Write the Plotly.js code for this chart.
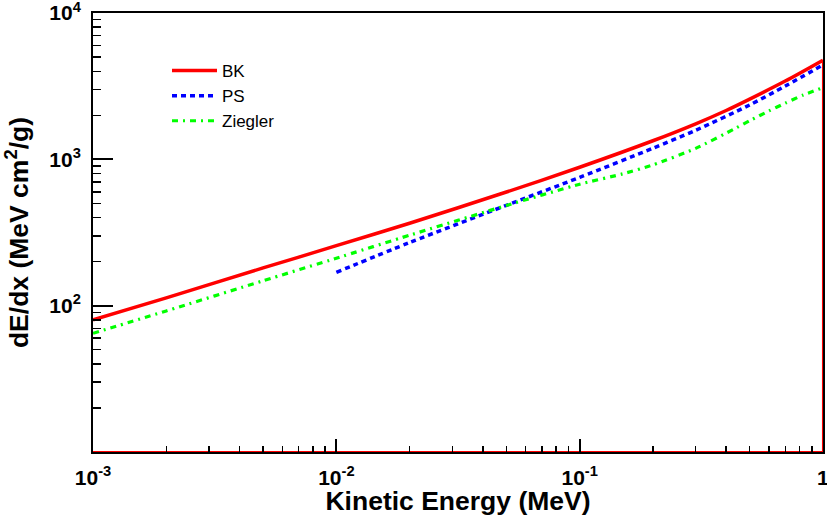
<!DOCTYPE html>
<html>
<head>
<meta charset="utf-8">
<script src="https://cdn.plot.ly/plotly-3.0.1.min.js"></script>
<style>html,body{margin:0;padding:0;background:#fff;}#chart{width:827px;height:516px;}</style>
</head>
<body>
<div id="chart"></div>
<script>
// Kinetic energy (MeV) and stopping power dE/dx (MeV cm^2/g)
const bkEnergy = [0.001, 0.002, 0.005, 0.01, 0.02, 0.05, 0.1, 0.2, 0.3, 0.4, 0.5, 0.7, 1.0];
const bkValues = [80, 113, 181, 257, 366, 598, 883, 1340, 1750, 2158, 2582, 3428, 4760];

const psEnergy = [0.01, 0.02, 0.05, 0.1, 0.2, 0.3, 0.5, 0.7, 1.0];
const psValues = [169, 270, 485, 753, 1191, 1581, 2355, 3170, 4420];

const zieglerEnergy = [0.001, 0.002, 0.005, 0.01, 0.02, 0.05, 0.1, 0.15, 0.2, 0.3, 0.43, 0.5, 0.6, 0.7, 0.83, 1.0];
const zieglerValues = [64.7, 92, 148, 211, 303, 484, 676, 795, 916, 1188, 1607, 1837, 2142, 2421, 2754, 3090];

const seriesNames = ["BK", "PS", "Ziegler"];

const xTickVals = [0.001, 0.01, 0.1, 1];
const xTickText = ["10<sup>-3</sup>", "10<sup>-2</sup>", "10<sup>-1</sup>", "1"];
const yTickVals = [100, 1000, 10000];
const yTickText = ["10<sup>2</sup>", "10<sup>3</sup>", "10<sup>4</sup>"];

const xRange = [0.001, 1];
const yRange = [10, 10000];

const FONT = "Liberation Sans, Arial, Helvetica, sans-serif";
const EPS = 2e-4;

// minor tick positions 2..9 in every decade of an axis range
function minorTicks(lo, hi) {
  const out = [];
  for (let d = Math.round(Math.log10(lo)); d < Math.round(Math.log10(hi)); d++) {
    for (let k = 2; k <= 9; k++) out.push(k * Math.pow(10, d));
  }
  return out;
}

const traces = [
  { // outline of the BK graph closing along the frame (as drawn in the original)
    x: [bkEnergy[bkEnergy.length - 1], bkEnergy[bkEnergy.length - 1], bkEnergy[0]],
    y: [bkValues[bkValues.length - 1], yRange[0], yRange[0]],
    mode: "lines", line: {color: "#ff0000", width: 2}, showlegend: false, hoverinfo: "skip"
  },
  {
    x: bkEnergy, y: bkValues, name: seriesNames[0], mode: "lines",
    line: {color: "#ff0000", width: 3.5, shape: "spline", smoothing: 0.8}, legendgroup: "a"
  },
  {
    x: psEnergy, y: psValues, name: seriesNames[1], mode: "lines",
    line: {color: "#0000ff", width: 3.5, dash: "5px,4px", shape: "spline", smoothing: 0.8}, legendgroup: "b"
  },
  {
    x: zieglerEnergy, y: zieglerValues, name: seriesNames[2], mode: "lines",
    line: {color: "#00ff00", width: 3.2, dash: "6px,5px,2px,5px", shape: "spline", smoothing: 0.5}, legendgroup: "c"
  },
  { // empty carrier for the minor-tick overlay axes
    x: [], y: [], xaxis: "x2", yaxis: "y2", mode: "lines", showlegend: false, hoverinfo: "skip"
  }
];

const titleFont = {family: FONT, size: 26.5, weight: "bold", color: "#000"};
const tickFont = {family: FONT, size: 21, weight: "bold", color: "#000"};
const xr = [Math.log10(xRange[0]) - EPS, Math.log10(xRange[1]) + EPS];
const yr = [Math.log10(yRange[0]) - EPS, Math.log10(yRange[1]) + EPS];

const layout = {
  width: 827, height: 516,
  margin: {l: 93, r: 4, t: 13, b: 64},
  paper_bgcolor: "#ffffff", plot_bgcolor: "#ffffff",
  font: {family: FONT, color: "#000"},
  showlegend: true,
  legend: {
    x: (167 - 93) / 730, y: (452 - 53) / 439, xanchor: "left", yanchor: "top",
    bgcolor: "rgba(0,0,0,0)", borderwidth: 0,
    font: {family: FONT, size: 17, color: "#000"},
    itemwidth: 45, tracegroupgap: 0, traceorder: "normal"
  },
  xaxis: {
    type: "log", range: xr, layer: "above traces",
    showgrid: false, zeroline: false,
    showline: true, linecolor: "#000", linewidth: 2, mirror: true,
    ticks: "inside", ticklen: 13, tickwidth: 2, tickcolor: "#000",
    tickmode: "array", tickvals: xTickVals, ticktext: xTickText,
    tickfont: tickFont, ticklabelstandoff: 6, ticklabeloverflow: "allow",
    title: {text: "Kinetic Energy (MeV)", font: titleFont, standoff: 2},
    automargin: false
  },
  yaxis: {
    type: "log", range: yr, layer: "above traces",
    showgrid: false, zeroline: false,
    showline: true, linecolor: "#000", linewidth: 2, mirror: true,
    ticks: "inside", ticklen: 20, tickwidth: 2, tickcolor: "#000",
    tickmode: "array", tickvals: yTickVals, ticktext: yTickText,
    tickfont: tickFont, ticklabelstandoff: 6, ticklabeloverflow: "allow",
    title: {text: "dE/dx (MeV cm<sup>2</sup>/g)", font: titleFont, standoff: 14},
    automargin: false
  },
  xaxis2: {
    type: "log", range: xr, overlaying: "x", anchor: "y2", side: "bottom",
    showgrid: false, zeroline: false, showline: false, showticklabels: false,
    ticks: "inside", ticklen: 6, tickwidth: 1.5, tickcolor: "#000",
    tickmode: "array", tickvals: minorTicks(xRange[0], xRange[1])
  },
  yaxis2: {
    type: "log", range: yr, overlaying: "y", anchor: "x2", side: "left",
    showgrid: false, zeroline: false, showline: false, showticklabels: false,
    ticks: "inside", ticklen: 8, tickwidth: 1.5, tickcolor: "#000",
    tickmode: "array", tickvals: minorTicks(yRange[0], yRange[1])
  }
};

Plotly.newPlot("chart", traces, layout, {displayModeBar: false, staticPlot: true});
</script>
</body>
</html>
